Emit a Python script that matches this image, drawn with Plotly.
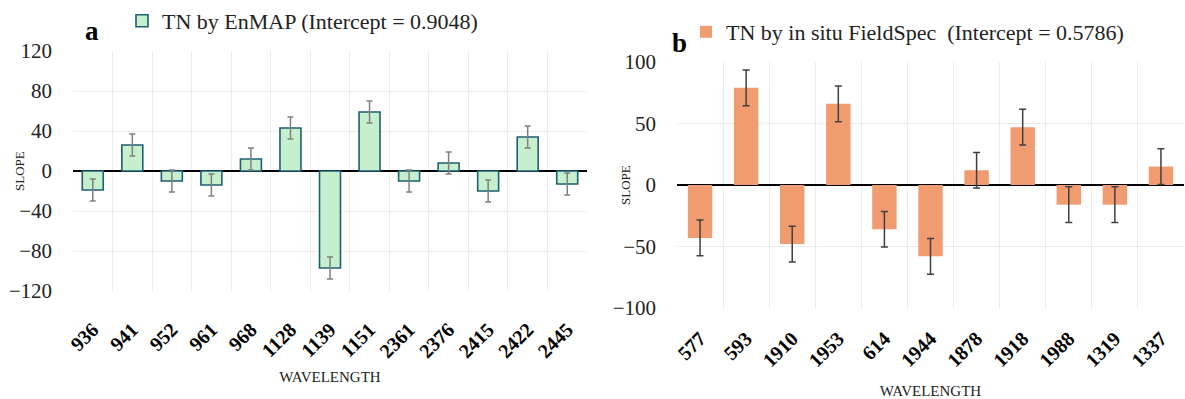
import plotly.graph_objects as go

# ---- data ----
a_cats = ["936", "941", "952", "961", "968", "1128", "1139", "1151", "2361", "2376", "2415", "2422", "2445"]
a_vals = [-19, 26, -10, -14, 12, 43, -97, 59, -10, 8, -20, 34, -13]
a_err = [11, 11, 11, 11, 11, 11, 11, 11, 11, 11, 11, 11, 11]

b_cats = ["577", "593", "1910", "1953", "614", "1944", "1878", "1918", "1988", "1319", "1337"]
b_vals = [-43, 79, -48, 66, -36, -58, 12, 47, -16, -16, 15]
b_err = [14.5, 14.5, 14.5, 14.5, 14.5, 14.5, 14.5, 14.5, 14.5, 14.5, 14.5]

a_ticks = [-120, -80, -40, 0, 40, 80, 120]
b_ticks = [-100, -50, 0, 50, 100]

SERIF = "Liberation Serif, Times New Roman, serif"
W, H = 1185, 399

fig = go.Figure()
fig.add_trace(go.Bar(
    x=a_cats, y=a_vals, xaxis="x", yaxis="y",
    name="TN by EnMAP (Intercept = 0.9048)",
    marker=dict(color="#c6efce", line=dict(color="#1f5f74", width=1.6)),
    error_y=dict(type="data", array=a_err, color="#808080", thickness=1.5, width=3),
    legend="legend",
))
fig.add_trace(go.Bar(
    x=b_cats, y=b_vals, xaxis="x2", yaxis="y2",
    name="TN by in situ FieldSpec \u00a0(Intercept = 0.5786)",
    marker=dict(color="#f09c70", line=dict(width=0)),
    error_y=dict(type="data", array=b_err, color="#404040", thickness=1.5, width=3.5),
    legend="legend2",
))

grid = "#ebebeb"
common_x = dict(
    type="category", tickson="boundaries", showgrid=True, gridcolor=grid, gridwidth=1,
    ticks="", tickangle=-45, showline=False, automargin=False,
    tickfont=dict(family=SERIF, size=20, color="#000", weight="bold"),
    title=dict(text="WAVELENGTH", font=dict(family=SERIF, size=15, color="#222")),
)
common_y = dict(
    showgrid=True, gridcolor=grid, gridwidth=1, zeroline=True, zerolinecolor="#000",
    zerolinewidth=1.6, ticks="", showline=False, automargin=False,
    tickfont=dict(family=SERIF, size=21, color="#222"),
)

fig.update_layout(
    width=W, height=H, margin=dict(l=0, r=0, t=0, b=0, autoexpand=False),
    paper_bgcolor="white", plot_bgcolor="white",
    bargap=0.47,
    showlegend=True,
    xaxis=dict(common_x, domain=[73 / W, 587 / W], anchor="y", ticklabelstandoff=22,
               title_standoff=10),
    yaxis=dict(common_y, domain=[1 - 291 / H, 1 - 51 / H], anchor="x", range=[-120, 120],
               tickvals=a_ticks, ticklabelstandoff=20),
    xaxis2=dict(common_x, domain=[677 / W, 1184 / W], anchor="y2", ticklabelstandoff=14,
                title_standoff=16),
    yaxis2=dict(common_y, domain=[1 - 308 / H, 1 - 62 / H], anchor="x2", range=[-100, 100],
                tickvals=b_ticks, ticklabelstandoff=20),
    legend=dict(x=122 / W, y=1 - 21 / H, xanchor="left", yanchor="middle",
                xref="container", yref="container",
                font=dict(family=SERIF, size=22, color="#222"), bgcolor="rgba(0,0,0,0)",
                itemwidth=30),
    legend2=dict(x=686 / W, y=1 - 32 / H, xanchor="left", yanchor="middle",
                 xref="container", yref="container",
                 font=dict(family=SERIF, size=22, color="#222"), bgcolor="rgba(0,0,0,0)",
                 itemwidth=30),
    annotations=[
        dict(text="<b>a</b>", x=92 / W, y=1 - 31 / H, xref="paper", yref="paper",
             xanchor="center", yanchor="middle",
             showarrow=False, font=dict(family=SERIF, size=27, color="#000")),
        dict(text="<b>b</b>", x=679 / W, y=1 - 43 / H, xref="paper", yref="paper",
             xanchor="center", yanchor="middle",
             showarrow=False, font=dict(family=SERIF, size=27, color="#000")),
        dict(text="SLOPE", x=19 / W, y=1 - 171 / H, xref="paper", yref="paper",
             xanchor="center", yanchor="middle",
             textangle=-90, showarrow=False, font=dict(family=SERIF, size=13, color="#222")),
        dict(text="SLOPE", x=626 / W, y=1 - 185 / H, xref="paper", yref="paper",
             xanchor="center", yanchor="middle",
             textangle=-90, showarrow=False, font=dict(family=SERIF, size=13, color="#222")),
    ],
)

fig.write_html("out.html")
